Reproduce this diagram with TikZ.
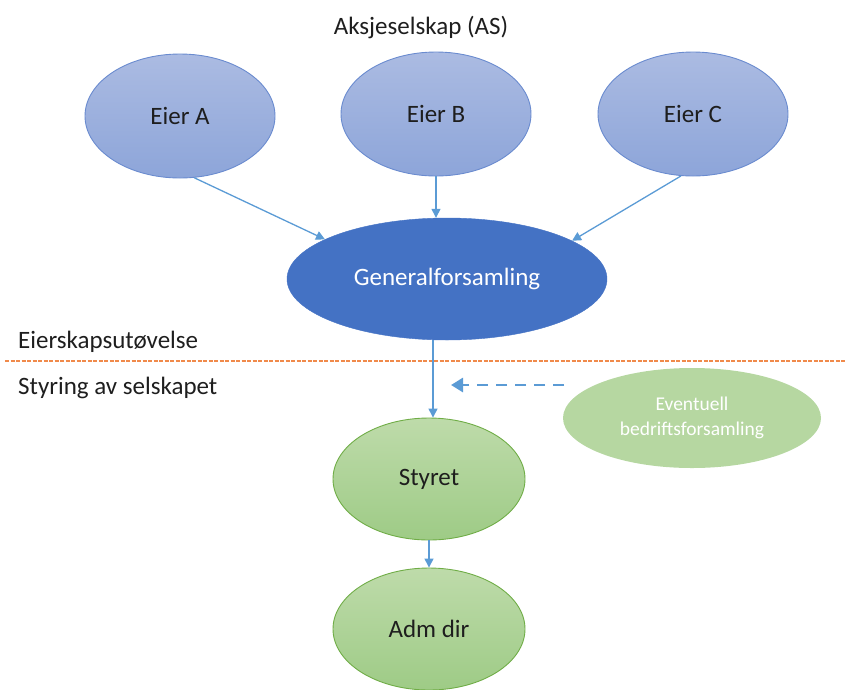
\documentclass[tikz,border=0pt]{standalone}
\usepackage{fontspec}
\setmainfont{Carlito}
\usetikzlibrary{shapes.geometric,arrows.meta}
\definecolor{arrowblue}{HTML}{5B9BD5}
\definecolor{eiertop}{HTML}{ABBBE2}
\definecolor{eierbot}{HTML}{8DA5D9}
\definecolor{eierline}{HTML}{6A8BCF}
\definecolor{gfblue}{HTML}{4472C4}
\definecolor{grtop}{HTML}{BEDBAA}
\definecolor{grbot}{HTML}{9ECB86}
\definecolor{grline}{HTML}{70AD47}
\definecolor{grlight}{HTML}{B6D7A1}
\definecolor{divorange}{HTML}{F08A4B}
\definecolor{txt}{HTML}{1E1E1E}
\tikzset{
  eier/.style={ellipse, draw=eierline, line width=0.9pt, top color=eiertop, bottom color=eierbot,
    minimum width=190pt, minimum height=124pt, inner sep=0pt, text=txt, font=\fontsize{25}{30}\selectfont},
  gfnode/.style={ellipse, draw=gfblue, fill=gfblue, minimum width=320pt, minimum height=122pt,
    inner sep=0pt, text=white, font=\fontsize{25}{30}\selectfont},
  grnode/.style={ellipse, draw=grline, line width=0.9pt, top color=grtop, bottom color=grbot,
    minimum width=192pt, minimum height=122pt, inner sep=0pt, text=txt, font=\fontsize{25}{30}\selectfont},
  ebfnode/.style={ellipse, fill=grlight, minimum width=258pt, minimum height=100pt, inner sep=0pt,
    text=white, align=center, font=\fontsize{19.5}{25}\selectfont},
  lbl/.style={text=txt, font=\fontsize{25}{30}\selectfont, inner sep=0pt},
  conn/.style={draw=arrowblue, line width=1.3pt, -{Triangle[length=9pt,width=9pt]}},
  dconn/.style={draw=arrowblue, line width=2.8pt, dash pattern=on 11pt off 8pt, -{Triangle[length=12pt,width=14pt]}},
  divider/.style={draw=divorange, line width=1.3pt, dash pattern=on 4pt off 1.5pt}
}
\begin{document}
\begin{tikzpicture}[x=1pt,y=-1pt]
\useasboundingbox (0,0) rectangle (846,689);
\clip (0,0) rectangle (846,689);
\node[lbl] (title) at (421,27) {Aksjeselskap (AS)};
\node[eier] (ea) at (180,116) {Eier A};
\node[eier] (eb) at (436,114) {Eier B};
\node[eier] (ec) at (693,114) {Eier C};
\node[gfnode] (gf) at (447,279) {Generalforsamling};
\draw[divider] (5,361) -- (846,361);
\node[lbl, anchor=west] (eu) at (18,342) {Eierskapsutøvelse};
\node[lbl, anchor=west] (sty) at (18,388) {Styring av selskapet};
\node[grnode] (st) at (429,479) {Styret};
\node[grnode] (ad) at (429,629) {Adm dir};
\node[ebfnode] (ebf) at (692,418) {Eventuell\\bedriftsforsamling};
\coordinate (dstart) at (564,385);
\coordinate (dend) at (451,385);
\draw[conn] (ea.-77) -- (gf.162);
\draw[conn] (eb.south) -- (eb.south |- gf.north);
\draw[conn] (ec.-101) -- (gf.17);
\draw[conn] ([xshift=4pt]st.north |- gf.south) -- ([xshift=4pt]st.north);
\draw[conn] (st.south) -- (ad.north);
\draw[dconn] (dstart) -- (dend);
\end{tikzpicture}
\end{document}
